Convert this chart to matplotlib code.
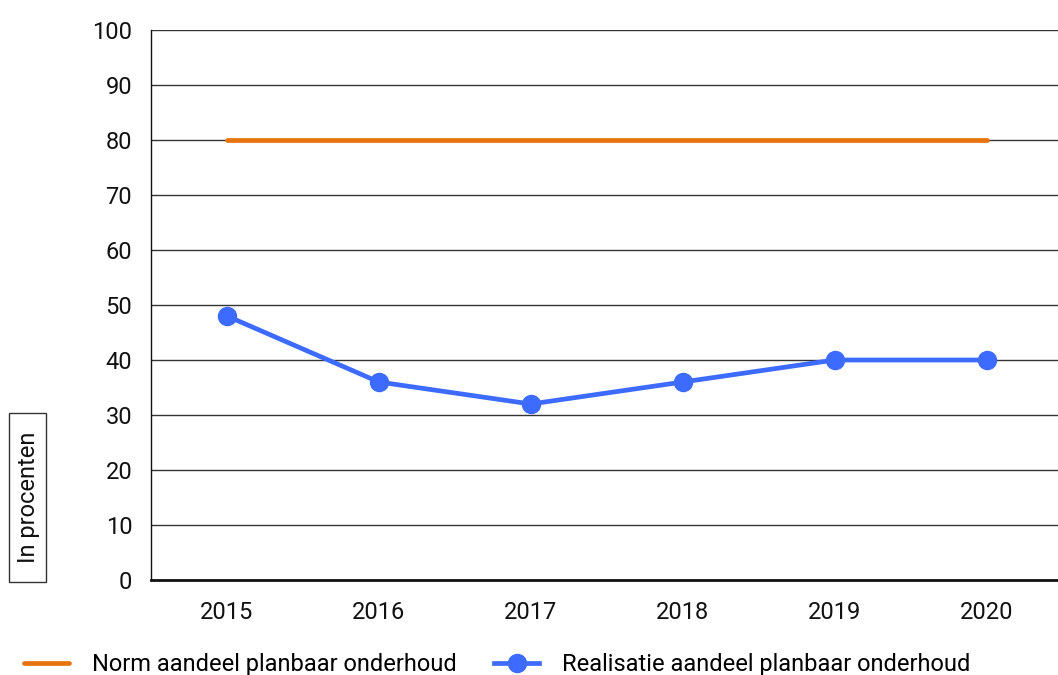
import matplotlib.pyplot as plt
from matplotlib.patches import Rectangle

plt.rcParams['font.family'] = ['Roboto', 'DejaVu Sans']

# data
years = ['2015', '2016', '2017', '2018', '2019', '2020']
norm = [80, 80, 80, 80, 80, 80]
realisatie = [48, 36, 32, 36, 40, 40]

orange = '#E8730C'
blue = '#3D6BFF'
fs = 17

fig = plt.figure(figsize=(10.58, 6.75), dpi=100)
ax = fig.add_axes([0.1427, 0.1407, 0.8573, 0.8149])

x = range(len(years))
ax.plot(x, norm, color=orange, linewidth=3.4, solid_capstyle='round', zorder=3,
        label='Norm aandeel planbaar onderhoud')
ax.plot(x, realisatie, color=blue, linewidth=3.4, marker='o', markersize=13,
        zorder=4, label='Realisatie aandeel planbaar onderhoud')

ax.set_xlim(-0.5, 5.47)
ax.set_ylim(0, 100)
ax.set_yticks(range(0, 101, 10))
ax.set_xticks(list(x))
ax.set_xticklabels(years)
ax.yaxis.grid(True, color='#333333', linewidth=1)
ax.set_axisbelow(True)
ax.tick_params(length=0, labelsize=fs, colors='#111111')
ax.tick_params(axis='y', pad=13.5)
ax.tick_params(axis='x', pad=15)
for side in ['top', 'right']:
    ax.spines[side].set_visible(False)
ax.spines['left'].set_color('#111111')
ax.spines['left'].set_linewidth(1)
ax.spines['bottom'].set_color('#111111')
ax.spines['bottom'].set_linewidth(2)

# boxed y label
fig.patches.append(Rectangle((0.0085, 0.1378), 0.035, 0.2503, transform=fig.transFigure,
                             facecolor='white', edgecolor='#333333', linewidth=1))
fig.text(0.0265, 0.263, 'In procenten', rotation=90, ha='center', va='center',
         fontsize=fs, color='#111111')

fig.legend(loc='lower left', bbox_to_anchor=(0.003, -0.033), ncol=2, frameon=False,
           fontsize=fs, handlelength=1.9, columnspacing=1.6, handletextpad=0.95)

fig.savefig('out.png', dpi=100)
